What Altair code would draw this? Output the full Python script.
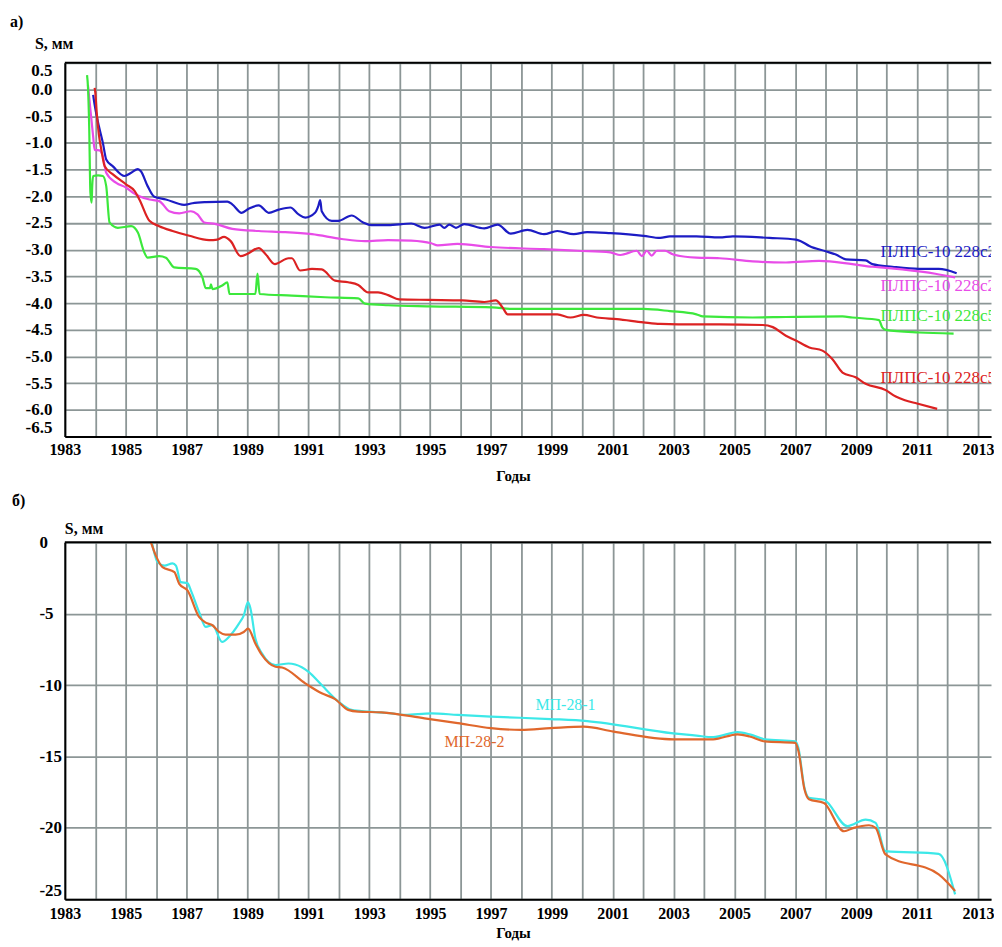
import altair as alt
import pandas as pd

# ---------------- data: panel a) ----------------
blue_year = [1983.93, 1983.98, 1984.12, 1984.25, 1984.36, 1984.58, 1984.96, 1985.18, 1985.4, 1985.5,
             1985.72, 1985.94, 1986.32, 1986.92, 1987.19, 1987.63, 1988.34, 1988.5, 1988.81, 1989.05,
             1989.37, 1989.7, 1990.03, 1990.41, 1990.68, 1990.9, 1991.22, 1991.33, 1991.39, 1991.44,
             1991.77, 1991.99, 1992.42, 1992.8, 1993.07, 1993.62, 1994.38, 1994.82, 1995.31, 1995.47,
             1995.63, 1995.85, 1996.12, 1996.78, 1997.22, 1997.65, 1998.2, 1998.74, 1999.18, 1999.72,
             2000.16, 2000.92, 2002.01, 2002.56, 2002.88, 2003.75, 2004.51, 2004.95, 2006.15, 2007.02,
             2007.18, 2007.46, 2008.0, 2008.33, 2008.66, 2009.31, 2009.53, 2010.19, 2011.06, 2011.71, 2012.3]
blue_s = [-0.10, -0.29, -0.69, -1.0, -1.31, -1.44, -1.62, -1.56, -1.49, -1.53,
          -1.81, -2.01, -2.06, -2.16, -2.13, -2.11, -2.10, -2.15, -2.31, -2.23,
          -2.17, -2.31, -2.25, -2.21, -2.34, -2.40, -2.31, -2.18, -2.07, -2.28,
          -2.46, -2.46, -2.36, -2.49, -2.54, -2.54, -2.51, -2.59, -2.53, -2.59,
          -2.53, -2.59, -2.52, -2.60, -2.53, -2.70, -2.63, -2.71, -2.65, -2.71,
          -2.67, -2.69, -2.74, -2.78, -2.75, -2.75, -2.77, -2.75, -2.78, -2.81,
          -2.84, -2.93, -3.03, -3.09, -3.18, -3.20, -3.27, -3.32, -3.36, -3.36, -3.44]

mag_year = [1983.76, 1983.82, 1983.93, 1983.98, 1984.14, 1984.25, 1984.36, 1984.69, 1985.02, 1985.23,
            1985.45, 1985.78, 1986.1, 1986.43, 1986.76, 1987.14, 1987.36, 1987.58, 1987.96, 1988.5,
            1989.37, 1990.24, 1991.12, 1992.1, 1992.86, 1993.62, 1994.38, 1995.04, 1995.25, 1995.9,
            1996.99, 1998.74, 1999.83, 2000.92, 2001.25, 2001.79, 2001.96, 2002.12, 2002.28, 2002.45,
            2002.72, 2002.99, 2003.75, 2004.51, 2005.6, 2006.69, 2007.78, 2008.87, 2009.53, 2009.97,
            2010.51, 2011.6, 2012.25]
mag_s = [0.08, -0.26, -0.88, -1.13, -1.14, -1.25, -1.56, -1.75, -1.84, -1.93,
         -2.0, -2.06, -2.09, -2.28, -2.32, -2.28, -2.34, -2.49, -2.52, -2.61,
         -2.65, -2.67, -2.71, -2.80, -2.84, -2.82, -2.83, -2.88, -2.92, -2.89,
         -2.95, -2.99, -3.02, -3.05, -3.10, -3.02, -3.12, -3.02, -3.11, -3.02,
         -3.02, -3.09, -3.15, -3.16, -3.22, -3.24, -3.21, -3.27, -3.32, -3.34,
         -3.37, -3.45, -3.52]

red_year = [1983.98, 1984.0, 1984.05, 1984.12, 1984.2, 1984.31, 1984.58, 1985.02, 1985.29, 1985.45,
            1985.78, 1986.1, 1986.54, 1987.09, 1987.74, 1988.01, 1988.23, 1988.45, 1988.77, 1988.99,
            1989.37, 1989.59, 1989.9, 1990.35, 1990.46, 1990.73, 1991.12, 1991.44, 1991.88, 1992.31,
            1992.64, 1992.97, 1993.29, 1993.62, 1993.98, 1994.97, 1996.06, 1996.78, 1997.16, 1997.38,
            1997.55, 1997.98, 1998.52, 1999.18, 1999.61, 2000.05, 2000.48, 2001.14, 2002.01, 2002.56,
            2003.75, 2004.51, 2005.93, 2006.26, 2006.69, 2007.02, 2007.46, 2007.89, 2008.22, 2008.55,
            2008.98, 2009.31, 2009.97, 2010.3, 2010.6, 2011.0, 2011.66]
red_s = [0.03, -0.05, -0.45, -0.85, -1.13, -1.44, -1.59, -1.78, -1.90, -2.06,
         -2.46, -2.56, -2.65, -2.74, -2.82, -2.81, -2.76, -2.84, -3.12, -3.08,
         -2.97, -3.08, -3.27, -3.16, -3.16, -3.39, -3.36, -3.37, -3.58, -3.61,
         -3.66, -3.80, -3.80, -3.85, -3.93, -3.94, -3.95, -3.98, -3.95, -4.08,
         -4.21, -4.21, -4.21, -4.21, -4.27, -4.22, -4.27, -4.30, -4.36, -4.39,
         -4.40, -4.40, -4.41, -4.45, -4.61, -4.70, -4.83, -4.89, -5.05, -5.30,
         -5.39, -5.51, -5.63, -5.75, -5.82, -5.88, -5.98]

green_year = [1983.73, 1983.76, 1983.8, 1983.84, 1983.88, 1983.9, 1983.93, 1984.09, 1984.25, 1984.36,
              1984.47, 1984.74, 1985.18, 1985.4, 1985.61, 1985.72, 1986.1, 1986.32, 1986.59, 1987.3,
              1987.52, 1987.63, 1987.77, 1987.8, 1987.85, 1988.17, 1988.34, 1988.41, 1989.26, 1989.33,
              1989.4, 1990.46, 1991.55, 1992.64, 1992.86, 1993.62, 1994.97, 1997.05, 1997.7, 1999.83,
              2002.01, 2002.88, 2003.75, 2003.96, 2005.6, 2006.69, 2008.55, 2008.87, 2009.75, 2009.86,
              2009.97, 2011.06, 2012.2]
green_s = [0.27, 0.05, -0.69, -1.93, -2.12, -1.81, -1.62, -1.61, -1.62, -1.81,
           -2.49, -2.59, -2.56, -2.68, -3.05, -3.15, -3.12, -3.15, -3.33, -3.36,
           -3.52, -3.72, -3.72, -3.65, -3.74, -3.67, -3.61, -3.83, -3.83, -3.45,
           -3.83, -3.86, -3.89, -3.91, -4.01, -4.04, -4.06, -4.08, -4.11, -4.11,
           -4.11, -4.15, -4.21, -4.25, -4.27, -4.26, -4.25, -4.27, -4.32, -4.46,
           -4.50, -4.55, -4.57]

top_names = ["ПЛПС-10 228с23", "ПЛПС-10 228с26", "ПЛПС-10 228с55", "ПЛПС-10 228с54"]
top_colors = ["#1c1cc4", "#e84ce8", "#3ce83c", "#dc2222"]
top_label_year = [2009.8, 2009.8, 2009.8, 2009.8]
top_label_s = [-3.04, -3.68, -4.24, -5.40]

# ---------------- data: panel б) ----------------
cyan_year = [1985.86, 1986.05, 1986.27, 1986.54, 1986.65, 1986.81, 1987.03, 1987.14, 1987.41, 1987.63,
             1987.85, 1988.17, 1988.39, 1988.72, 1988.88, 1989.02, 1989.1, 1989.26, 1989.48, 1989.92,
             1990.35, 1990.57, 1991.01, 1991.44, 1991.99, 1992.42, 1992.97, 1993.73, 1994.17, 1995.04,
             1995.91, 1997.0, 1998.96, 2000.16, 2002.99, 2003.75, 2004.3, 2005.1, 2005.5, 2006.0,
             2007.0, 2007.1, 2007.3, 2007.45, 2007.94, 2008.71, 2009.31, 2009.64, 2009.96, 2011.71, 2012.25]
cyan_s = [0.0, -1.4, -1.63, -1.47, -1.63, -2.79, -2.86, -3.37, -4.88, -5.93,
          -5.81, -6.98, -6.63, -5.70, -5.12, -4.19, -4.65, -6.74, -7.79, -8.6,
          -8.49, -8.56, -9.07, -10.0, -11.16, -11.74, -11.86, -11.98, -12.09, -11.98,
          -12.09, -12.21, -12.38, -12.52, -13.38, -13.54, -13.65, -13.3, -13.45, -13.8,
          -13.95, -14.4, -17.2, -17.9, -18.03, -19.88, -19.42, -19.65, -21.63, -21.82, -24.66]

orange_year = [1985.83, 1985.99, 1986.21, 1986.6, 1986.76, 1987.03, 1987.41, 1987.63, 1987.85, 1988.07,
               1988.28, 1988.61, 1988.88, 1989.02, 1989.26, 1989.48, 1989.92, 1990.14, 1990.9, 1991.44,
               1991.88, 1992.31, 1992.64, 1993.4, 1994.82, 1995.91, 1997.0, 1997.98, 1998.96, 2000.05,
               2001.03, 2002.99, 2003.75, 2004.3, 2005.1, 2005.5, 2006.0, 2007.0, 2007.1, 2007.3,
               2007.45, 2007.94, 2008.6, 2008.92, 2009.42, 2009.64, 2009.96, 2011.71, 2012.25]
orange_s = [0.0, -0.93, -1.74, -2.09, -2.91, -3.37, -5.23, -5.63, -5.81, -6.28,
            -6.47, -6.47, -6.28, -6.05, -7.09, -7.91, -8.72, -8.77, -9.88, -10.58,
            -10.98, -11.74, -11.86, -11.91, -12.33, -12.67, -13.02, -13.14, -13.02, -12.91,
            -13.26, -13.80, -13.80, -13.8, -13.45, -13.6, -13.95, -14.05, -14.6, -17.3,
            -18.0, -18.26, -20.24, -20.0, -19.82, -20.0, -21.86, -23.26, -24.42]

bot_names = ["МП-28-1", "МП-28-2"]
bot_colors = ["#3ce8e8", "#e0672c"]
bot_label_year = [1998.46, 1995.47]
bot_label_s = [-11.40, -13.96]

year_ticks = [1983, 1984, 1985, 1986, 1987, 1988, 1989, 1990, 1991, 1992, 1993, 1994, 1995, 1996,
              1997, 1998, 1999, 2000, 2001, 2002, 2003, 2004, 2005, 2006, 2007, 2008, 2009, 2010,
              2011, 2012, 2013]
top_y_ticks = [0.5, 0.0, -0.5, -1.0, -1.5, -2.0, -2.5, -3.0, -3.5, -4.0, -4.5, -5.0, -5.5, -6.0, -6.5]
bot_y_ticks = [0, -5, -10, -15, -20, -25]

# ---------------- styling ----------------
FONT = "Liberation Serif, Times New Roman, serif"
GRID = "#8c9696"
W = 929
H_TOP = 375
H_BOT = 358
PX_PER_YEAR = 30.53
X_MAX = 1983 + W / PX_PER_YEAR


def long_df(names, pairs):
    frames = []
    for name, (ys, vs) in zip(names, pairs):
        frames.append(pd.DataFrame({"year": ys, "s": vs, "series": name}))
    return pd.concat(frames, ignore_index=True)


top_df = long_df(top_names, [(blue_year, blue_s), (mag_year, mag_s), (green_year, green_s), (red_year, red_s)])
top_lab = pd.DataFrame({"year": top_label_year, "s": top_label_s, "series": top_names})
bot_df = long_df(bot_names, [(cyan_year, cyan_s), (orange_year, orange_s)])
bot_lab = pd.DataFrame({"year": bot_label_year, "s": bot_label_s, "series": bot_names})

x_scale = alt.Scale(domain=[1983, X_MAX], nice=False, zero=False)
year_label = "datum.value % 2 == 1 ? format(datum.value, 'd') : ''"


def x_axis(pad):
    return alt.Axis(values=year_ticks, tickCount=100, labelExpr=year_label, grid=True, gridColor=GRID,
                    gridWidth=1.8, gridOpacity=1, domainColor="black", domainWidth=2, ticks=False,
                    title=None, labelFont=FONT, labelFontSize=16, labelFontWeight="bold",
                    labelColor="black", labelPadding=pad, labelOverlap=False, labelFlush=False,
                    labelBaseline="top")


def txt(text, x, y, size=16, weight="bold", align="left", color="black"):
    return alt.Chart(pd.DataFrame({"t": [text]})).mark_text(
        align=align, baseline="middle", font=FONT, fontSize=size, fontWeight=weight, color=color
    ).encode(x=alt.value(x), y=alt.value(y), text="t:N")


def border(w):
    return alt.Chart(pd.DataFrame({"a": [0]})).mark_rule(color="black", strokeWidth=2).encode(
        x=alt.value(0), x2=alt.value(w), y=alt.value(0))


top_color = alt.Color("series:N", scale=alt.Scale(domain=top_names, range=top_colors), legend=None)
top_y_axis = alt.Axis(values=top_y_ticks, tickCount=100,
                      labelExpr="replace(replace(format(datum.value, '.1f'), '\u2212', '-'), '-0.0', '0.0')",
                      grid=True, gridColor=GRID, gridWidth=1.8, gridOpacity=1, domainColor="black",
                      domainWidth=2, ticks=False, title=None, labelFont=FONT, labelFontSize=17,
                      labelFontWeight="bold", labelColor="black", labelPadding=13, labelOverlap=False,
                      labelFlush=True)

top_lines = alt.Chart(top_df).mark_line(strokeWidth=2.2, clip=True, interpolate="monotone").encode(
    x=alt.X("year:Q", scale=x_scale, axis=x_axis(5)),
    y=alt.Y("s:Q", scale=alt.Scale(domain=[-6.5, 0.5], nice=False, zero=False), axis=top_y_axis),
    color=top_color,
)
top_text = alt.Chart(top_lab).mark_text(align="left", baseline="middle", font=FONT, fontSize=17,
                                        clip=True).encode(
    x="year:Q", y="s:Q", text="series:N", color=top_color)

top = alt.layer(
    top_lines, top_text, border(W),
    txt("а)", -55, -41, size=16),
    txt("S, мм", -30, -19, size=16),
    txt("Годы", 450, H_TOP + 40, size=15, align="center"),
).properties(width=W, height=H_TOP)

bot_color = alt.Color("series:N", scale=alt.Scale(domain=bot_names, range=bot_colors), legend=None)
bot_y_axis = alt.Axis(values=bot_y_ticks, tickCount=100,
                      labelExpr="replace(format(datum.value, 'd'), '\u2212', '-')",
                      grid=True, gridColor=GRID, gridWidth=1.8, gridOpacity=1, domainColor="black",
                      domainWidth=2, ticks=False, title=None, labelFont=FONT, labelFontSize=17,
                      labelFontWeight="bold", labelColor="black", labelPadding=26, labelAlign="left",
                      labelBaseline={"condition": {"test": "datum.value == -25", "value": "bottom"},
                                     "value": "middle"},
                      labelOverlap=False, labelFlush=False)

bot_lines = alt.Chart(bot_df).mark_line(strokeWidth=2.2, clip=True, interpolate="monotone").encode(
    x=alt.X("year:Q", scale=x_scale, axis=x_axis(6)),
    y=alt.Y("s:Q", scale=alt.Scale(domain=[-25, 0], nice=False, zero=False), axis=bot_y_axis),
    color=bot_color,
)
bot_text = alt.Chart(bot_lab).mark_text(align="left", baseline="middle", font=FONT, fontSize=16,
                                        clip=True).encode(
    x="year:Q", y="s:Q", text="series:N", color=bot_color)

bottom = alt.layer(
    bot_lines, bot_text, border(W),
    txt("б)", -53, -41, size=16),
    txt("S, мм", 0, -13, size=16),
    txt("Годы", 450, H_BOT + 34, size=15, align="center"),
).properties(width=W, height=H_BOT)

chart = alt.vconcat(top, bottom, spacing=106, bounds="flush").resolve_scale(
    color="independent", x="independent", y="independent"
).properties(
    padding={"left": 2, "top": 4.5, "right": 0, "bottom": 0},
    background="white",
).configure_view(stroke=None)

chart.save("out.html", embed_options={"renderer": "svg", "actions": False})
